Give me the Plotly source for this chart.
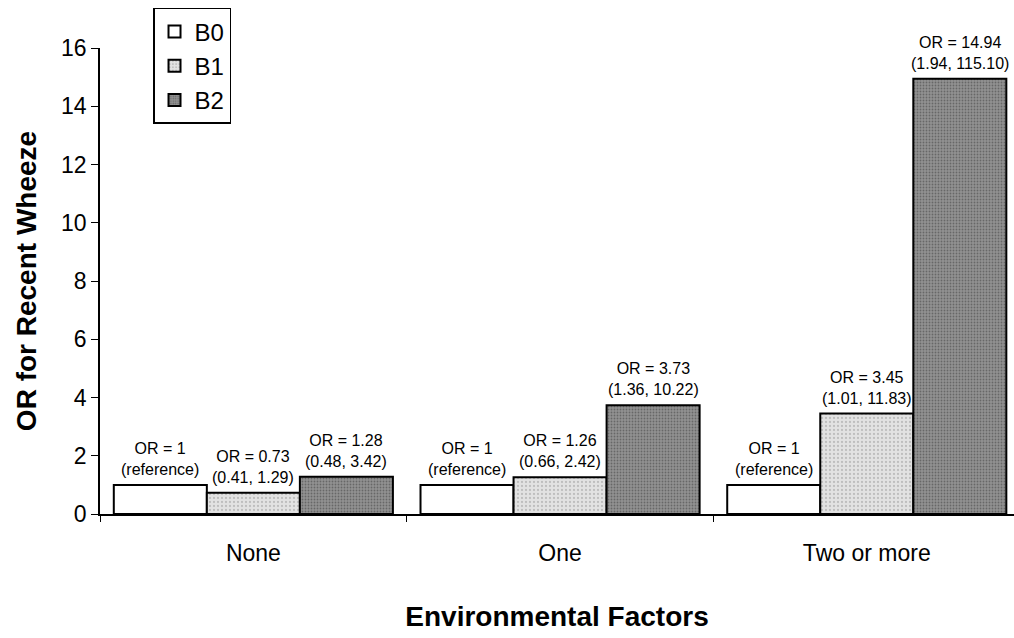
import plotly.graph_objects as go

categories = ["None", "One", "Two or more"]
series_names = ["B0", "B1", "B2"]
b0_values = [1.0, 1.0, 1.0]
b1_values = [0.73, 1.26, 3.45]
b2_values = [1.28, 3.73, 14.94]
b0_labels = ["OR = 1<br>(reference)", "OR = 1<br>(reference)", "OR = 1<br>(reference)"]
b1_labels = ["OR = 0.73<br>(0.41, 1.29)", "OR = 1.26<br>(0.66, 2.42)", "OR = 3.45<br>(1.01, 11.83)"]
b2_labels = ["OR = 1.28<br>(0.48, 3.42)", "OR = 3.73<br>(1.36, 10.22)", "OR = 14.94<br>(1.94, 115.10)"]
y_ticks = [0, 2, 4, 6, 8, 10, 12, 14, 16]

FONT = "Liberation Sans, Arial, sans-serif"
BARGAP = 0.09

styles = {
    "B0": dict(color="#ffffff", pattern=None),
    "B1": dict(color="#dcdcdc", pattern=dict(shape=".", bgcolor="#e2e2e2", fgcolor="#9a9a9a", size=4, solidity=0.25)),
    "B2": dict(color="#8a8a8a", pattern=dict(shape=".", bgcolor="#929292", fgcolor="#3c3c3c", size=3, solidity=0.3)),
}

all_values = [b0_values, b1_values, b2_values]
all_labels = [b0_labels, b1_labels, b2_labels]

fig = go.Figure()
for name, vals in zip(series_names, all_values):
    st = styles[name]
    marker = dict(color=st["color"], line=dict(color="#000000", width=2))
    if st["pattern"]:
        marker["pattern"] = st["pattern"]
    fig.add_trace(go.Bar(x=categories, y=vals, name=name, marker=marker, legendgroup=name))

# value labels above each bar (group offsets on the category axis)
bar_w = (1 - BARGAP) / len(series_names)
for j, (vals, labels) in enumerate(zip(all_values, all_labels)):
    offset = (j - (len(series_names) - 1) / 2) * bar_w
    for i, (v, lab) in enumerate(zip(vals, labels)):
        fig.add_annotation(
            x=i + offset, y=v, text=lab, showarrow=False,
            xanchor="center", yanchor="bottom", yshift=5,
            font=dict(family=FONT, size=16, color="#000000"),
        )

fig.update_layout(
    width=1014, height=638,
    margin=dict(l=100, r=0, t=48, b=124),
    paper_bgcolor="#ffffff", plot_bgcolor="#ffffff",
    barmode="group", bargap=BARGAP, bargroupgap=0.0,
    font=dict(family=FONT, color="#000000"),
    showlegend=True,
    legend=dict(
        x=0.058, y=1.086, xanchor="left", yanchor="top",
        bordercolor="#000000", borderwidth=1.5, bgcolor="#ffffff",
        font=dict(family=FONT, size=24), tracegroupgap=6,
        traceorder="normal", itemwidth=30,
    ),
    xaxis=dict(
        range=[-0.5, 2.48], showline=True, linecolor="#000000", linewidth=1.5,
        ticks="outside", tickson="boundaries", ticklen=6, tickcolor="#000000",
        tickfont=dict(family=FONT, size=23), ticklabelstandoff=18,
        showgrid=False, zeroline=False,
        title=dict(text="<b>Environmental Factors</b>", font=dict(family=FONT, size=28), standoff=41),
    ),
    yaxis=dict(
        range=[0, 16], tickvals=y_ticks, showline=True, linecolor="#000000", linewidth=1.5,
        ticks="outside", ticklen=7, tickcolor="#000000",
        tickfont=dict(family=FONT, size=23), showgrid=False, zeroline=False,
        title=dict(text="<b>OR for Recent Wheeze</b>", font=dict(family=FONT, size=28), standoff=16),
    ),
)

fig.write_html("out.html")
